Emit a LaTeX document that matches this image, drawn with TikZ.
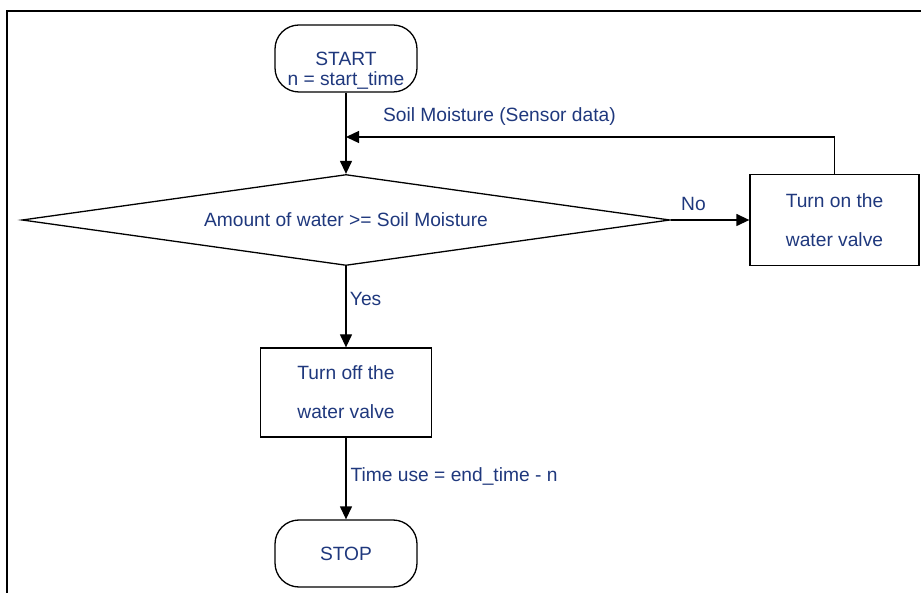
\documentclass[tikz,border=0pt]{standalone}
\usepackage{fontspec}
\setmainfont{Liberation Sans}
\usetikzlibrary{shapes.geometric,arrows.meta}

\newlength{\du}
\setlength{\du}{1pt}

\tikzset{
  lbl/.style={text=dialinetext, font=\fontsize{19.2}{22}\selectfont},
  terminal/.style={lbl, draw=dialinecolor, line width=1.3\du, rounded corners=24\du,
    minimum width=142\du, minimum height=67\du, align=center},
  process/.style={lbl, draw=dialinecolor, line width=1.3\du, align=center,
    font=\fontsize{19.2}{39}\selectfont},
  decision/.style={lbl, draw=dialinecolor, line width=1.3\du, diamond, aspect=7,
    inner sep=0pt, minimum width=648\du, minimum height=91\du},
  flow/.style={draw=dialinecolor, line width=1.3\du, -{Triangle[length=13pt,width=12pt]}}
}

\begin{document}
\begin{tikzpicture}
\pgftransformxscale{1.000000}
\pgftransformyscale{-1.000000}
\definecolor{dialinecolor}{rgb}{0.000000, 0.000000, 0.000000}
\definecolor{dialinetext}{rgb}{0.120000, 0.220000, 0.490000}
\useasboundingbox (0\du,0\du) rectangle (921\du,593\du);
% frame
\draw[line width=2\du, dialinecolor] (921\du,11\du)--(7\du,11\du)--(7\du,593\du);
% shapes
\node[terminal, inner ysep=0pt, text height=60.6\du, text depth=6.4\du,
  font=\fontsize{19.2}{20}\selectfont] (start) at (346\du,58.5\du){START\\n = start\_time};
\node[decision] (cond) at (346\du,220\du){Amount of water >= Soil Moisture};
\node[process, minimum width=169\du, minimum height=91\du] (turnon) at (834.5\du,220\du){Turn on the\\water valve};
\node[process, minimum width=171\du, minimum height=89\du] (turnoff) at (346\du,392.5\du){Turn off the\\water valve};
\node[terminal] (stop) at (346\du,553.5\du){STOP};
\coordinate (join) at (346\du,137\du);
% connectors
\draw[flow] (start) -- (cond);
\draw[flow] (turnon.north) |- node[lbl, pos=0.843, anchor=south, inner ysep=11\du]{Soil Moisture (Sensor data)} (join);
\draw[flow] (cond.east) -- node[lbl, pos=0.29, anchor=south, inner ysep=9\du]{No} (turnon.west);
\draw[flow] (cond.south) -- node[lbl, pos=0.4, anchor=west]{Yes} (turnoff.north);
\draw[flow] (turnoff.south) -- node[lbl, pos=0.48, anchor=west, inner xsep=4\du]{Time use = end\_time - n} (stop.north);
\end{tikzpicture}
\end{document}
